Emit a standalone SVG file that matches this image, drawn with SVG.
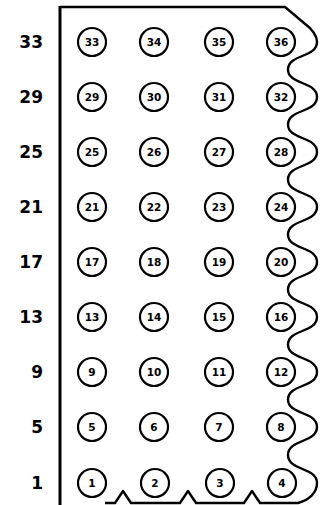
<svg xmlns="http://www.w3.org/2000/svg" width="325" height="505" viewBox="0 0 325 505">
<style>
.o{fill:none;stroke:#000;stroke-width:2.4;stroke-linejoin:round}
.l{fill:none;stroke:#000;stroke-width:3}
.c{fill:#fff;stroke:#000;stroke-width:2.2}
.n{font-family:"DejaVu Sans",sans-serif;font-weight:bold;font-size:10.5px;text-anchor:middle}
.r{font-family:"DejaVu Sans",sans-serif;font-weight:bold;font-size:17px;text-anchor:end}
</style>
<rect width="325" height="505" fill="#fff"/>
<g id="outline">
<path class="o" d="M60,7 H285 L304,23 C312,29 317,35 317,42 C317,58 288,54 288,69.5 C288,85 317,81 317,97 C317,113 288,109 288,124.5 C288,140 317,136 317,152 C317,168 288,164 288,179.5 C288,195 317,191 317,207 C317,223 288,219 288,234.5 C288,250 317,246 317,262 C317,278 288,274 288,289.5 C288,305 317,301 317,317 C317,333 288,329 288,344.5 C288,360 317,356 317,372 C317,388 288,384 288,399.5 C288,415 317,411 317,427 C317,443 288,439 288,455 C288,471 317,467 317,483 C317,493 309,500 298,503 H260 L252,491 L244,503 H196 L188,491 L180,503 H131 L123,491 L115,503 H105"/>
<path class="l" d="M60,6 V505"/>
</g>
<g id="row-labels">
<text class="r" x="43" y="48">33</text>
<text class="r" x="43" y="103">29</text>
<text class="r" x="43" y="158">25</text>
<text class="r" x="43" y="213">21</text>
<text class="r" x="43" y="268">17</text>
<text class="r" x="43" y="323">13</text>
<text class="r" x="43" y="378">9</text>
<text class="r" x="43" y="433">5</text>
<text class="r" x="43" y="489">1</text>
</g>
<g id="n33"><circle class="c" cx="92" cy="42" r="14"/><text class="n" x="92" y="45.8">33</text></g>
<g id="n34"><circle class="c" cx="154" cy="42" r="14"/><text class="n" x="154" y="45.8">34</text></g>
<g id="n35"><circle class="c" cx="219" cy="42" r="14"/><text class="n" x="219" y="45.8">35</text></g>
<g id="n36"><circle class="c" cx="281" cy="42" r="14"/><text class="n" x="281" y="45.8">36</text></g>
<g id="n29"><circle class="c" cx="92" cy="97" r="14"/><text class="n" x="92" y="100.8">29</text></g>
<g id="n30"><circle class="c" cx="154" cy="97" r="14"/><text class="n" x="154" y="100.8">30</text></g>
<g id="n31"><circle class="c" cx="219" cy="97" r="14"/><text class="n" x="219" y="100.8">31</text></g>
<g id="n32"><circle class="c" cx="281" cy="97" r="14"/><text class="n" x="281" y="100.8">32</text></g>
<g id="n25"><circle class="c" cx="92" cy="152" r="14"/><text class="n" x="92" y="155.8">25</text></g>
<g id="n26"><circle class="c" cx="154" cy="152" r="14"/><text class="n" x="154" y="155.8">26</text></g>
<g id="n27"><circle class="c" cx="219" cy="152" r="14"/><text class="n" x="219" y="155.8">27</text></g>
<g id="n28"><circle class="c" cx="281" cy="152" r="14"/><text class="n" x="281" y="155.8">28</text></g>
<g id="n21"><circle class="c" cx="92" cy="207" r="14"/><text class="n" x="92" y="210.8">21</text></g>
<g id="n22"><circle class="c" cx="154" cy="207" r="14"/><text class="n" x="154" y="210.8">22</text></g>
<g id="n23"><circle class="c" cx="219" cy="207" r="14"/><text class="n" x="219" y="210.8">23</text></g>
<g id="n24"><circle class="c" cx="281" cy="207" r="14"/><text class="n" x="281" y="210.8">24</text></g>
<g id="n17"><circle class="c" cx="92" cy="262" r="14"/><text class="n" x="92" y="265.8">17</text></g>
<g id="n18"><circle class="c" cx="154" cy="262" r="14"/><text class="n" x="154" y="265.8">18</text></g>
<g id="n19"><circle class="c" cx="219" cy="262" r="14"/><text class="n" x="219" y="265.8">19</text></g>
<g id="n20"><circle class="c" cx="281" cy="262" r="14"/><text class="n" x="281" y="265.8">20</text></g>
<g id="n13"><circle class="c" cx="92" cy="317" r="14"/><text class="n" x="92" y="320.8">13</text></g>
<g id="n14"><circle class="c" cx="154" cy="317" r="14"/><text class="n" x="154" y="320.8">14</text></g>
<g id="n15"><circle class="c" cx="219" cy="317" r="14"/><text class="n" x="219" y="320.8">15</text></g>
<g id="n16"><circle class="c" cx="281" cy="317" r="14"/><text class="n" x="281" y="320.8">16</text></g>
<g id="n9"><circle class="c" cx="92" cy="372" r="14"/><text class="n" x="92" y="375.8">9</text></g>
<g id="n10"><circle class="c" cx="154" cy="372" r="14"/><text class="n" x="154" y="375.8">10</text></g>
<g id="n11"><circle class="c" cx="219" cy="372" r="14"/><text class="n" x="219" y="375.8">11</text></g>
<g id="n12"><circle class="c" cx="281" cy="372" r="14"/><text class="n" x="281" y="375.8">12</text></g>
<g id="n5"><circle class="c" cx="92" cy="427" r="14"/><text class="n" x="92" y="430.8">5</text></g>
<g id="n6"><circle class="c" cx="154" cy="427" r="14"/><text class="n" x="154" y="430.8">6</text></g>
<g id="n7"><circle class="c" cx="219" cy="427" r="14"/><text class="n" x="219" y="430.8">7</text></g>
<g id="n8"><circle class="c" cx="281" cy="427" r="14"/><text class="n" x="281" y="430.8">8</text></g>
<g id="n1"><circle class="c" cx="92" cy="483" r="14"/><text class="n" x="92" y="486.8">1</text></g>
<g id="n2"><circle class="c" cx="155" cy="483" r="14"/><text class="n" x="155" y="486.8">2</text></g>
<g id="n3"><circle class="c" cx="220" cy="483" r="14"/><text class="n" x="220" y="486.8">3</text></g>
<g id="n4"><circle class="c" cx="282" cy="483" r="14"/><text class="n" x="282" y="486.8">4</text></g>
</svg>
